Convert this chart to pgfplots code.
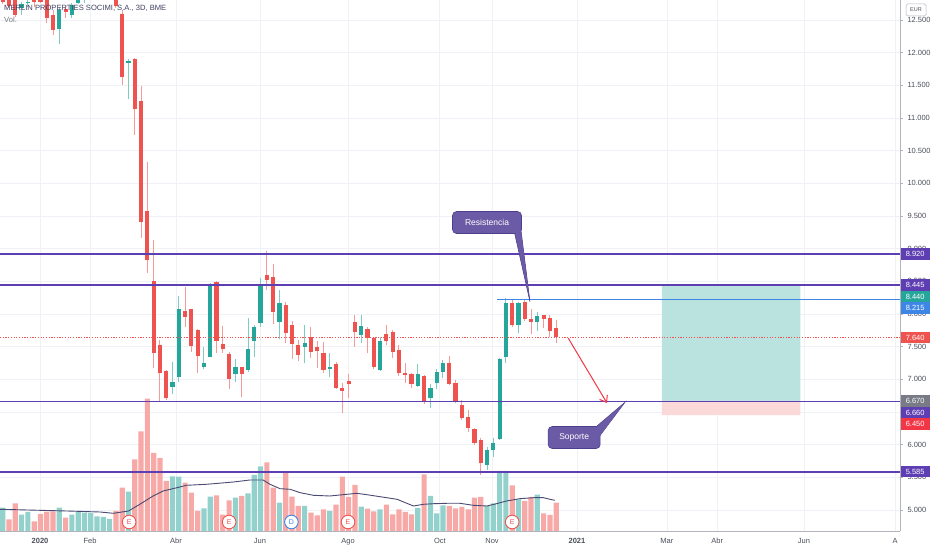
\documentclass[border=0pt]{standalone}
\usepackage{pgfplots}
\pgfplotsset{compat=1.18}
\usepackage{pgfplotstable}
\usepackage{fontspec}
\setmainfont{Liberation Sans}
\usetikzlibrary{arrows.meta}

\definecolor{cup}{HTML}{26A69A}
\definecolor{cdn}{HTML}{EF5350}
\definecolor{upw}{HTML}{7FCBC3}
\definecolor{dnw}{HTML}{F49A98}
\definecolor{volup}{HTML}{93D2CC}
\definecolor{voldn}{HTML}{F7A9A7}
\definecolor{lvl}{HTML}{5E3FB3}
\definecolor{callout}{HTML}{6B5BA6}
\definecolor{calloutb}{HTML}{4E3F8E}
\definecolor{gridc}{HTML}{EEF2F7}
\definecolor{axtext}{HTML}{4A4E5A}
\definecolor{maline}{HTML}{4A4A72}
\definecolor{bluel}{HTML}{3D86E6}
\definecolor{arrowred}{HTML}{F23645}
\definecolor{titlec}{HTML}{3F4163}
\definecolor{grayl}{HTML}{787B86}
\definecolor{axline}{HTML}{B2B5BE}

\pgfplotstableread{
i o h l c
3 12.69 12.78 12.58 12.74
4 12.755 12.82 12.70 12.78
9 12.36 12.70 12.13 12.66
11 12.58 12.76 12.53 12.73
12 12.765 12.85 12.75 12.80
13 12.80 12.95 12.76 12.90
14 12.90 13.0 12.85 12.95
15 12.95 13.1 12.9 13.05
16 13.0 13.1 12.95 13.05
17 13.0 13.15 12.92 13.1
20 11.84 11.90 11.29 11.87
27 6.887 7.27 6.775 6.954
28 7.04 8.275 6.96 8.07
32 7.183 7.49 7.153 7.244
33 7.347 8.469 7.34 8.443
37 7.076 7.31 6.964 7.183
39 7.142 7.943 7.107 7.464
40 7.591 7.831 7.347 7.806
41 7.867 8.545 7.806 8.443
44 7.882 8.367 7.612 8.173
48 7.499 7.831 7.254 7.55
52 7.153 7.398 7.03 7.183
57 7.678 7.984 7.561 7.816
60 7.142 7.642 7.132 7.586
66 6.903 7.234 6.887 7.081
68 6.709 6.928 6.566 6.862
69 6.938 7.158 6.847 7.107
70 7.107 7.296 7.015 7.244
77 5.689 5.969 5.612 5.918
78 5.918 6.097 5.816 6.031
79 6.087 7.32 6.07 7.311
80 7.347 8.24 7.255 8.173
82 7.832 8.188 7.714 8.173
85 7.883 8.035 7.745 7.969
}\candup

\pgfplotstableread{
i o h l c
0 12.95 13.0 12.74 12.78
1 12.9 12.95 12.68 12.72
2 12.85 12.9 12.55 12.58
5 12.85 12.9 12.70 12.77
6 12.84 12.9 12.76 12.77
7 12.85 12.9 12.45 12.53
8 12.57 12.65 12.27 12.35
10 12.67 12.72 12.53 12.62
18 13.05 13.1 12.68 12.72
19 12.59 12.65 11.50 11.63
21 11.90 11.92 10.74 11.14
22 11.265 11.49 9.17 9.41
23 9.58 10.32 8.63 8.83
24 8.50 9.13 7.17 7.40
25 7.53 7.60 6.66 7.09
26 7.12 7.14 6.69 6.71
29 8.05 8.42 7.80 7.96
30 8.07 8.08 7.42 7.51
31 7.755 7.77 7.10 7.36
34 8.484 8.50 7.398 7.591
35 7.54 7.816 7.398 7.464
36 7.387 7.42 6.851 7.005
38 7.183 7.19 6.734 7.076
42 8.591 8.964 8.367 8.52
43 8.561 8.765 7.841 8.035
45 8.137 8.188 7.56 7.714
46 7.826 7.892 7.306 7.54
47 7.525 7.601 7.28 7.372
49 7.642 7.806 7.321 7.423
50 7.5 7.586 7.168 7.438
51 7.408 7.576 7.102 7.142
53 7.234 7.27 6.85 6.862
54 6.872 6.938 6.479 6.826
55 6.979 7.081 6.709 6.928
56 7.882 7.984 7.5 7.729
58 7.765 7.796 7.398 7.627
59 7.637 7.65 7.16 7.183
61 7.688 7.831 7.525 7.586
62 7.729 7.755 7.331 7.423
63 7.449 7.525 7.056 7.091
64 7.091 7.244 6.949 7.06
65 7.076 7.102 6.862 6.923
67 7.05 7.06 6.622 6.673
71 7.255 7.357 6.91 6.923
72 6.938 6.99 6.632 6.658
73 6.607 6.684 6.38 6.403
74 6.429 6.531 6.199 6.25
75 6.235 6.26 5.995 6.031
76 6.072 6.097 5.536 5.725
81 8.173 8.214 7.8 7.832
83 8.188 8.215 7.9 7.923
84 7.918 8.071 7.694 7.883
86 7.98 7.99 7.781 7.923
87 7.944 7.985 7.653 7.745
88 7.781 7.908 7.551 7.64
}\canddn

\pgfplotstableread{
i v
0 23.3
3 16.3
4 19
9 23.3
11 16.3
12 19
13 18.3
14 18
15 14.7
16 14
17 12
20 39.3
27 54.7
28 54.3
32 22.7
33 34.3
37 33.3
39 37.7
40 56
41 64.7
44 28.3
48 25
52 20
57 24.3
60 21.7
66 23
68 35
69 17.7
70 25.7
77 25
78 27.7
79 60
80 60
82 31.7
85 36.3
}\volup

\pgfplotstableread{
i v
1 11.7
2 27.7
5 9.7
6 17
7 19.3
8 19.7
10 13.3
18 20
19 43.3
21 71.7
22 99.7
23 132.3
24 78
25 73
26 50
29 48.3
30 38.3
31 20
34 35.7
35 16.3
36 30.7
38 35
42 68.7
43 43.3
45 58.3
46 34.3
47 25
49 18.3
50 15.7
51 21.7
53 26.3
54 54.3
55 34
56 46
58 22.3
59 19.7
61 26.3
62 16.7
63 21.7
64 19
65 16.7
67 56.7
71 25
72 22.7
73 24
74 21.7
75 33.3
76 34
81 45.7
83 30
84 34
86 17.7
87 16
88 28.3
}\voldn

\pgfplotstableread{
x y
-0.43 6.66
142.66 6.66
}\lvlc

\newcommand{\lblfont}{\fontsize{7.5bp}{8bp}\selectfont}
\pgfplotsset{chart/.style={at={(0bp,19bp)}, anchor=south west, scale only axis,
  width=900bp, height=531bp, xmin=-0.43, xmax=142.66}}

\begin{document}
\begin{tikzpicture}
\path[use as bounding box] (0bp,0bp) rectangle (932bp,550bp);

% ---------- Axis A: price frame, grid, ticks, position boxes ----------
\begin{axis}[chart, ymin=4.678, ymax=12.806,
  axis x line*=bottom, axis y line*=right,
  axis line style={draw=axline, line width=0.8bp},
  xtick={5.93,13.88,27.55,40.9,54.9,69.5,77.8,91.3,105.6,113.6,127.4,141.9},
  xticklabels={\textbf{2020},Feb,Abr,Jun,Ago,Oct,Nov,\textbf{2021},Mar,Abr,Jun,A},
  ytick={5,5.5,6,6.5,7,7.5,8,8.5,9,9.5,10,10.5,11,11.5,12,12.5},
  grid=major, major grid style={draw=gridc, line width=0.8bp},
  tick label style={font=\lblfont, text=axtext},
  /pgf/number format/assume math mode=true,
  /pgf/number format/fixed,
  /pgf/number format/fixed zerofill,
  /pgf/number format/precision=3,
  yticklabel style={xshift=1bp},
  xticklabel style={yshift=-1bp},
  xtick style={draw=none},
  ytick style={draw=axline, line width=0.6bp},
  tick align=outside, major tick length=3bp,
]
\addplot[fill=cup!32, draw=none] coordinates
  {(104.8,6.67) (126.8,6.67) (126.8,8.445) (104.8,8.445) (104.8,6.67)};
\addplot[fill=cdn!22, draw=none] coordinates
  {(104.8,6.45) (126.8,6.45) (126.8,6.67) (104.8,6.67) (104.8,6.45)};
\end{axis}

% ---------- Axis B: volume ----------
\begin{axis}[chart, ymin=0, ymax=531, hide axis]
\addplot[ybar, bar width=5.2bp, bar shift=0pt, fill=volup, draw=none] table[x=i,y=v] {\volup};
\addplot[ybar, bar width=5.2bp, bar shift=0pt, fill=voldn, draw=none] table[x=i,y=v] {\voldn};
\addplot[draw=maline, line width=0.9bp] coordinates {
(-0.4,21.7) (10.2,20) (15.5,19) (17.6,17.7) (20,20) (21.8,26.7) (23.9,35)
(25.5,40) (27.7,43.3) (29.2,45.7) (32.4,46.7) (36.7,49) (39.3,51) (41.4,51)
(42.5,46.7) (44.1,42.3) (45.7,41.7) (47.3,38.3) (49.4,35.7) (52,35) (54.7,36.7)
(56.3,37.7) (57.9,36.3) (60,34.3) (62.7,31.7) (65.3,25) (66.9,26.7) (68.5,27.3)
(70.6,27.7) (72.7,27.7) (74.8,25.7) (77,25) (78.5,27.3) (80.1,30) (82.2,32.3)
(84.4,33.3) (86,33.3) (87,31.7) (87.8,30.7)};
\addplot[only marks, mark=*, mark size=6.8bp,
  mark options={fill=white, draw=cdn, line width=0.9bp},
  point meta=explicit symbolic, nodes near coords,
  nodes near coords style={anchor=center, text=cdn, font=\fontsize{7bp}{8bp}\selectfont}]
  coordinates {(20.1,9) [E] (36,9) [E] (54.9,9) [E] (81,9) [E]};
\addplot[only marks, mark=*, mark size=6.8bp,
  mark options={fill=white, draw=bluel, line width=0.9bp},
  point meta=explicit symbolic, nodes near coords,
  nodes near coords style={anchor=center, text=bluel, font=\fontsize{7bp}{8bp}\selectfont}]
  coordinates {(45.9,9) [D]};
\end{axis}

% ---------- Axis C: candles ----------
\begin{axis}[chart, ymin=4.678, ymax=12.806, hide axis]
\addplot[draw=upw, line width=1bp, quiver={u=0, v=\thisrow{h}-\thisrow{l}}] table[x=i,y=l] {\candup};
\addplot[draw=dnw, line width=1bp, quiver={u=0, v=\thisrow{h}-\thisrow{l}}] table[x=i,y=l] {\canddn};
\addplot[draw=cup, line width=4.2bp, quiver={u=0, v=\thisrow{c}-\thisrow{o}}] table[x=i,y=o] {\candup};
\addplot[draw=cdn, line width=4.2bp, quiver={u=0, v=\thisrow{c}-\thisrow{o}}] table[x=i,y=o] {\canddn};
\end{axis}

% ---------- Axis L: level lines ----------
\begin{axis}[chart, ymin=4.678, ymax=12.806, hide axis]
\addplot[draw=lvl, line width=1.6bp] table[x=x,y=y] {\lvlc};
\addplot[draw=lvl, line width=1.6bp] coordinates {(-0.43,8.92) (142.66,8.92)};
\addplot[draw=lvl, line width=1.6bp] coordinates {(-0.43,8.445) (142.66,8.445)};
\addplot[draw=lvl, line width=1.6bp] coordinates {(-0.43,5.585) (142.66,5.585)};
\addplot[draw=bluel, line width=1bp] coordinates {(78.6,8.215) (142.66,8.215)};
\addplot[draw=cdn, line width=0.7bp, dash pattern=on 1.2bp off 1.5bp] coordinates {(-0.43,7.64) (142.66,7.64)};
\addplot[draw=arrowred, line width=1bp, -{Straight Barb[length=6bp,width=9bp]}] coordinates {(89.9,7.632) (96.07,6.637)};
\addplot[fill=callout, draw=calloutb, line width=0.6bp] coordinates {(81.29,9.28) (83.83,8.188) (82.4,9.28)};
\addplot[fill=callout, draw=calloutb, line width=0.6bp] coordinates {(93.2,6.18) (98.93,6.648) (94.8,6.12)};
\end{axis}

% ---------- Axis D: annotations ----------
\begin{axis}[chart, ymin=4.678, ymax=12.806, hide axis, clip=false]
\node[fill=callout, draw=calloutb, line width=0.6bp, rounded corners=4bp, text=white,
  minimum width=69bp, minimum height=22bp, inner sep=0pt,
  font=\fontsize{8.5bp}{9bp}\selectfont] at (axis cs:77.0,9.40) {Resistencia};
\addplot[fill=callout, draw=none] coordinates {(81.35,9.30) (83.7,8.25) (82.34,9.30)};
\node[fill=callout, draw=calloutb, line width=0.6bp, rounded corners=4bp, text=white,
  minimum width=52bp, minimum height=22bp, inner sep=0pt,
  font=\fontsize{8.5bp}{9bp}\selectfont] at (axis cs:90.86,6.109) {Soporte};
\addplot[fill=callout, draw=none] coordinates {(93.1,6.16) (98.7,6.625) (94.7,6.10)};
\tikzset{plbl/.style={text=white, font=\lblfont, minimum width=29bp, minimum height=11.5bp,
  inner sep=0pt, anchor=west, xshift=0.5bp}}
\node[plbl, fill=lvl] at (axis cs:142.66,8.92) {8.920};
\node[plbl, fill=lvl] at (axis cs:142.66,8.445) {8.445};
\node[plbl, fill=cup] at (axis cs:142.66,8.268) {8.440};
\node[plbl, fill=bluel] at (axis cs:142.66,8.091) {8.215};
\node[plbl, fill=cdn] at (axis cs:142.66,7.64) {7.640};
\node[plbl, fill=grayl] at (axis cs:142.66,6.668) {6.670};
\node[plbl, fill=lvl] at (axis cs:142.66,6.492) {6.660};
\node[plbl, fill=arrowred] at (axis cs:142.66,6.316) {6.450};
\node[plbl, fill=lvl] at (axis cs:142.66,5.585) {5.585};
\node[fill=white, draw=axline, line width=0.5bp, rounded corners=1.5bp, text=axtext,
  font=\fontsize{5.5bp}{6bp}\selectfont, inner sep=1.5bp, minimum width=20bp, minimum height=12bp]
  at (axis cs:142.66,12.653) [xshift=16bp] {EUR};
\node[anchor=north west, text=titlec, font=\fontsize{7.6bp}{8bp}\selectfont, inner sep=0pt]
  at (axis cs:-0.43,12.806) [xshift=4bp, yshift=-5.5bp] {MERLIN PROPERTIES SOCIMI, S.A., 3D, BME};
\node[anchor=north west, text=grayl, font=\fontsize{7.6bp}{8bp}\selectfont, inner sep=0pt]
  at (axis cs:-0.43,12.806) [xshift=4bp, yshift=-17bp] {Vol.};
\end{axis}
\end{tikzpicture}
\end{document}
